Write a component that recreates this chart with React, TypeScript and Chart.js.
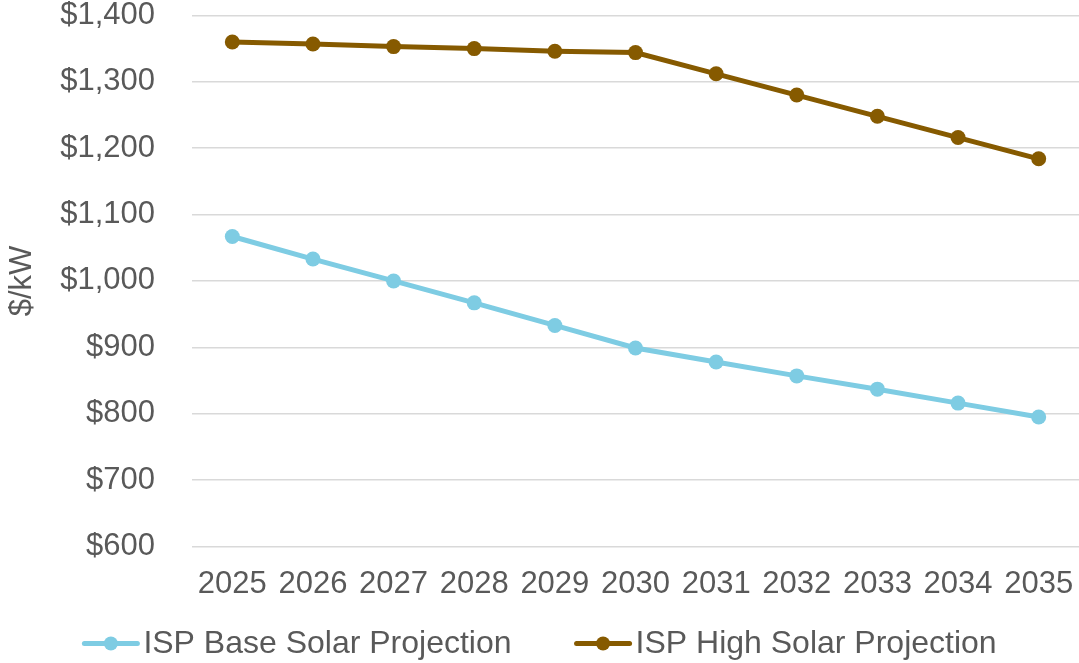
import React, { useEffect, useRef } from "react";
import { Chart, registerables } from "chart.js";

Chart.register(...registerables);

// Installed-capacity cost projections, $/kW
const years = ["2025", "2026", "2027", "2028", "2029", "2030", "2031", "2032", "2033", "2034", "2035"];
const baseSolar = [1067, 1033, 1000, 967, 933, 899, 878, 857, 837, 816, 795];
const highSolar = [1360, 1357, 1353, 1350, 1346, 1344, 1312, 1280, 1248, 1216, 1184];
const seriesLabels = ["ISP Base Solar Projection", "ISP High Solar Projection"];
const seriesColors = ["#7ECCE3", "#865A00"];

const FONT_FAMILY = '"Liberation Sans", Arial, sans-serif';
const TEXT_COLOR = "#595959";
const W = 1079;
const H = 663;

// Legend row below the axis: line sample with a dot, then the series name
const bottomLegend = {
  id: "bottomLegend",
  afterDraw(chart: any) {
    const ctx = chart.ctx as CanvasRenderingContext2D;
    const sampleW = 57;
    const textGap = 4;
    const itemGap = 63;
    const y = 643.5;
    ctx.save();
    ctx.font = `32px ${FONT_FAMILY}`;
    const items = chart.data.datasets.map((ds: any) => ({
      label: ds.label as string,
      color: ds.borderColor as string,
      textW: ctx.measureText(ds.label).width,
    }));
    const total =
      items.reduce((s: number, it: any) => s + sampleW + textGap + it.textW, 0) +
      itemGap * (items.length - 1);
    let x = (chart.width - total) / 2;
    for (const it of items) {
      ctx.strokeStyle = it.color;
      ctx.lineWidth = 5;
      ctx.lineCap = "round";
      ctx.beginPath();
      ctx.moveTo(x + 2, y);
      ctx.lineTo(x + sampleW - 2, y);
      ctx.stroke();
      ctx.fillStyle = it.color;
      ctx.beginPath();
      ctx.arc(x + sampleW / 2, y, 7, 0, Math.PI * 2);
      ctx.fill();
      ctx.fillStyle = TEXT_COLOR;
      ctx.textAlign = "left";
      ctx.textBaseline = "middle";
      ctx.fillText(it.label, x + sampleW + textGap, y + 1);
      x += sampleW + textGap + it.textW + itemGap;
    }
    ctx.restore();
  },
};

export default function App() {
  const canvasRef = useRef<HTMLCanvasElement | null>(null);

  useEffect(() => {
    if (!canvasRef.current) return;
    const tickFont = { family: FONT_FAMILY, size: 31 };
    const chart = new Chart(canvasRef.current, {
      type: "line",
      data: {
        labels: years,
        datasets: [
          {
            label: seriesLabels[0],
            data: baseSolar,
            borderColor: seriesColors[0],
            backgroundColor: seriesColors[0],
            pointBackgroundColor: seriesColors[0],
            pointBorderWidth: 0,
            pointRadius: 7.5,
            borderWidth: 5,
            tension: 0,
          },
          {
            label: seriesLabels[1],
            data: highSolar,
            borderColor: seriesColors[1],
            backgroundColor: seriesColors[1],
            pointBackgroundColor: seriesColors[1],
            pointBorderWidth: 0,
            pointRadius: 7.5,
            borderWidth: 5,
            tension: 0,
          },
        ],
      },
      options: {
        responsive: false,
        animation: false,
        layout: { autoPadding: false, padding: { top: 15.4, bottom: 56.5, left: 0, right: 0 } },
        plugins: {
          legend: { display: false },
          tooltip: { enabled: false },
        },
        scales: {
          x: {
            type: "category",
            offset: true,
            grid: { display: false, drawTicks: false },
            border: { display: false },
            ticks: {
              font: tickFont,
              color: TEXT_COLOR,
              padding: 19,
              maxRotation: 0,
              autoSkip: false,
            },
            afterFit(scale: any) {
              scale.height = 60;
              scale.paddingLeft = 0;
              scale.paddingRight = 0;
            },
          },
          y: {
            min: 600,
            max: 1400,
            grid: { color: "#D9D9D9", lineWidth: 1.5, drawTicks: false },
            border: { display: false },
            ticks: {
              stepSize: 100,
              font: tickFont,
              color: TEXT_COLOR,
              padding: 37,
              callback: (v: any) => "$" + Number(v).toLocaleString("en-US"),
            },
            title: {
              display: true,
              text: "$/kW",
              font: { family: FONT_FAMILY, size: 31 },
              color: TEXT_COLOR,
              padding: { top: 4, bottom: 4 },
            },
            afterFit(scale: any) {
              scale.width = 192;
              scale.paddingTop = 0;
              scale.paddingBottom = 0;
            },
          },
        },
      },
      plugins: [bottomLegend],
    } as any);
    return () => chart.destroy();
  }, []);

  return (
    <div style={{ position: "absolute", left: 0, top: 0, width: W, height: H, background: "#fff" }}>
      <canvas ref={canvasRef} width={W} height={H} />
    </div>
  );
}
